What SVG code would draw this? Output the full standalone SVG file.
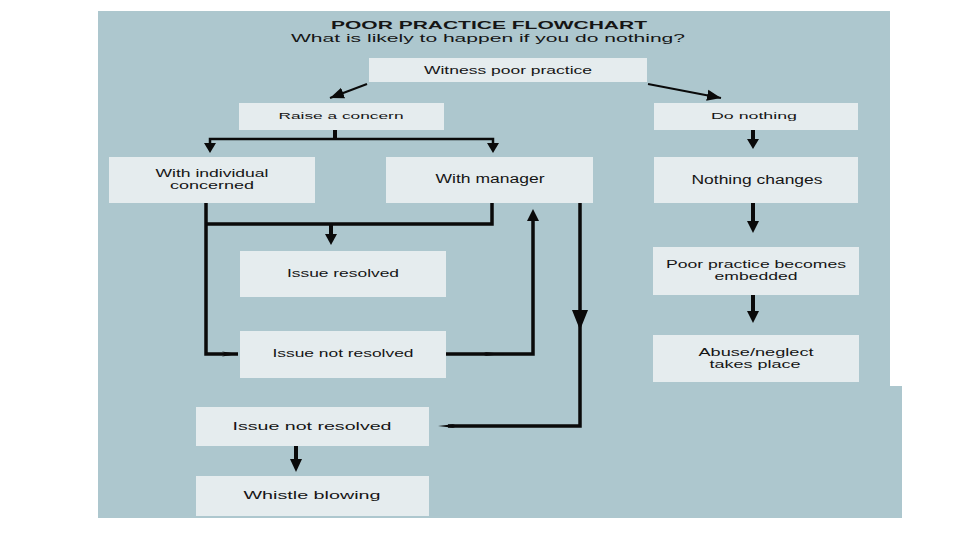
<svg xmlns="http://www.w3.org/2000/svg" width="960" height="540" viewBox="0 0 960 540">
<style>
.box{fill:#e5ecee;}
.t{font-family:"Liberation Sans",Arial,sans-serif;fill:#151515;text-anchor:middle;}
.c{stroke:#0a0a0a;fill:none;stroke-linecap:butt;stroke-linejoin:miter;}
.thin{stroke-width:2;}
.thick{stroke-width:3.5;}
.head{fill:#0a0a0a;}
</style>
<defs>
<marker id="ah" markerUnits="userSpaceOnUse" markerWidth="14" markerHeight="14" refX="10" refY="5" orient="auto" viewBox="0 0 10 10">
<path d="M0,1 L10,5 L0,9 Z" fill="#0a0a0a"/>
</marker>
<marker id="dart" markerUnits="userSpaceOnUse" markerWidth="16" markerHeight="8" refX="16" refY="4" orient="auto" viewBox="0 0 16 8">
<path d="M0,1.5 L16,4 L0,6.5 L4,4 Z" fill="#0a0a0a"/>
</marker>
</defs>
<path d="M98,11 H890 V386 H902 V518 H98 Z" fill="#adc7ce"/>
<g id="title">
<text class="t" x="489" y="29" font-size="11" font-weight="bold" textLength="316" lengthAdjust="spacingAndGlyphs">POOR PRACTICE FLOWCHART</text>
<text class="t" x="488" y="42" font-size="11.5" textLength="394" lengthAdjust="spacingAndGlyphs">What is likely to happen if you do nothing?</text>
</g>
<g id="connectors">
<line class="c thin" x1="367" y1="84" x2="330" y2="98" marker-end="url(#ah)"/>
<line class="c thin" x1="648" y1="84" x2="721" y2="98" marker-end="url(#ah)"/>
<line class="c" stroke-width="4" x1="335" y1="130" x2="335" y2="140"/>
<polyline class="c" stroke-width="2.5" points="210,145 210,139 493,139 493,145"/>
<path class="head" d="M204,143 L216,143 L210,153 Z"/>
<path class="head" d="M487,143 L499,143 L493,153 Z"/>
<line class="c" stroke-width="4" x1="753" y1="130" x2="753" y2="140"/>
<path class="head" d="M747,139 L759,139 L753,149 Z"/>
<line class="c" stroke-width="4" x1="753" y1="203" x2="753" y2="222"/>
<path class="head" d="M747,221 L759,221 L753,233 Z"/>
<line class="c" stroke-width="4" x1="753" y1="295" x2="753" y2="312"/>
<path class="head" d="M747,311 L759,311 L753,323 Z"/>
<polyline class="c thick" points="206,203 206,354 238,354" marker-end="url(#dart)"/>
<polyline class="c thick" points="206,224 492,224 492,203"/>
<line class="c" stroke-width="4" x1="331" y1="224" x2="331" y2="236"/>
<path class="head" d="M325,234 L337,234 L331,245 Z"/>
<polyline class="c thick" points="446,354 533,354 533,220"/>
<path class="head" d="M527,221 L539,221 L533,209 Z"/>
<path class="head" d="M484,352 L504,354 L484,356 L488,354 Z"/>
<polyline class="c thick" points="580,203 580,426 448,426"/>
<path class="head" d="M572,310 L588,310 L580,330 Z"/>
<path class="head" d="M455,424 L438,426 L455,428 L451,426 Z"/>
<line class="c" stroke-width="4" x1="296" y1="446" x2="296" y2="461"/>
<path class="head" d="M290,459 L302,459 L296,472 Z"/>
</g>
<g id="n-witness"><rect class="box" x="369" y="58" width="278" height="24"/><text class="t" x="508" y="74" font-size="10" textLength="168" lengthAdjust="spacingAndGlyphs">Witness poor practice</text></g>
<g id="n-raise"><rect class="box" x="239" y="103" width="205" height="27"/><text class="t" x="341" y="119" font-size="8.5" textLength="125" lengthAdjust="spacingAndGlyphs">Raise a concern</text></g>
<g id="n-donothing"><rect class="box" x="654" y="103" width="204" height="27"/><text class="t" x="754" y="119" font-size="8.5" textLength="86" lengthAdjust="spacingAndGlyphs">Do nothing</text></g>
<g id="n-individual"><rect class="box" x="109" y="157" width="206" height="46"/><text class="t" x="212" y="176.5" font-size="11" textLength="113" lengthAdjust="spacingAndGlyphs">With individual</text><text class="t" x="212" y="189" font-size="11" textLength="84" lengthAdjust="spacingAndGlyphs">concerned</text></g>
<g id="n-manager"><rect class="box" x="386" y="157" width="207" height="46"/><text class="t" x="490" y="183" font-size="12" textLength="109" lengthAdjust="spacingAndGlyphs">With manager</text></g>
<g id="n-nothingchanges"><rect class="box" x="654" y="157" width="204" height="46"/><text class="t" x="757" y="184" font-size="12.5" textLength="131" lengthAdjust="spacingAndGlyphs">Nothing changes</text></g>
<g id="n-resolved"><rect class="box" x="240" y="251" width="206" height="46"/><text class="t" x="343" y="277" font-size="11.5" textLength="112" lengthAdjust="spacingAndGlyphs">Issue resolved</text></g>
<g id="n-notresolved1"><rect class="box" x="240" y="331" width="206" height="47"/><text class="t" x="343" y="357" font-size="11.5" textLength="141" lengthAdjust="spacingAndGlyphs">Issue not resolved</text></g>
<g id="n-embedded"><rect class="box" x="653" y="247" width="206" height="48"/><text class="t" x="756" y="267.5" font-size="11" textLength="180" lengthAdjust="spacingAndGlyphs">Poor practice becomes</text><text class="t" x="756" y="280" font-size="11" textLength="83" lengthAdjust="spacingAndGlyphs">embedded</text></g>
<g id="n-abuse"><rect class="box" x="653" y="335" width="206" height="47"/><text class="t" x="756" y="355.5" font-size="11" textLength="115" lengthAdjust="spacingAndGlyphs">Abuse/neglect</text><text class="t" x="755" y="368" font-size="11" textLength="91" lengthAdjust="spacingAndGlyphs">takes place</text></g>
<g id="n-notresolved2"><rect class="box" x="196" y="407" width="233" height="39"/><text class="t" x="312" y="430" font-size="11.5" textLength="159" lengthAdjust="spacingAndGlyphs">Issue not resolved</text></g>
<g id="n-whistle"><rect class="box" x="196" y="476" width="233" height="40"/><text class="t" x="312" y="499" font-size="11.5" textLength="137" lengthAdjust="spacingAndGlyphs">Whistle blowing</text></g>
</svg>
